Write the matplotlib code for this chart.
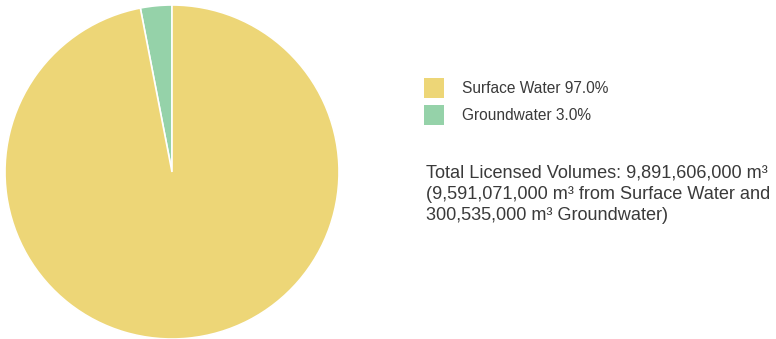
"""Licensed water volumes by source, pie chart with legend and totals"""

import matplotlib
matplotlib.use('Agg')
import matplotlib.pyplot as plt
from matplotlib.patches import Patch

plt.rcParams['font.family'] = ['Liberation Sans', 'DejaVu Sans']

# Licensed volumes in m3
lSource = ['Groundwater', 'Surface Water']
lVolume = [300535000, 9591071000]
lColor = ['#95d2a9', '#edd677']

nTotal = sum(lVolume)
lPct = [100.0 * v / nTotal for v in lVolume]

fig = plt.figure(figsize=(7.76, 3.39), dpi=100)
ax = fig.add_axes([5/776, 0.0, 334/776, 334/339])

wedges, _ = ax.pie(
	lVolume, colors=lColor, startangle=90, counterclock=True,
	wedgeprops={'linewidth': 1.2, 'edgecolor': 'white'}
)
ax.set_aspect('equal')
ax.set_xlim(-1, 1)
ax.set_ylim(-1, 1)

# Legend lists surface water first
lOrder = [1, 0]
lHandles = [Patch(facecolor=lColor[i], edgecolor='none') for i in lOrder]
lLabels = ['%s %.1f%%' % (lSource[i], lPct[i]) for i in lOrder]
fig.legend(
	lHandles, lLabels, loc='upper left', bbox_to_anchor=(424/776, 1 - 78/339),
	frameon=False, fontsize=11.2, handlelength=1.28, handleheight=1.6,
	handletextpad=1.15, labelspacing=0.45, labelcolor='#3a3a3a',
	borderpad=0, borderaxespad=0
)

sNote = 'Total Licensed Volumes: {:,} m\u00b3\n({:,} m\u00b3 from Surface Water and\n{:,} m\u00b3 Groundwater)'.format(
	nTotal, lVolume[1], lVolume[0]
)
fig.text(426/776, 1 - 165/339, sNote, ha='left', va='top', fontsize=13.1,
	color='#3a3a3a', linespacing=1.32)

fig.savefig('out.png', dpi=100)
